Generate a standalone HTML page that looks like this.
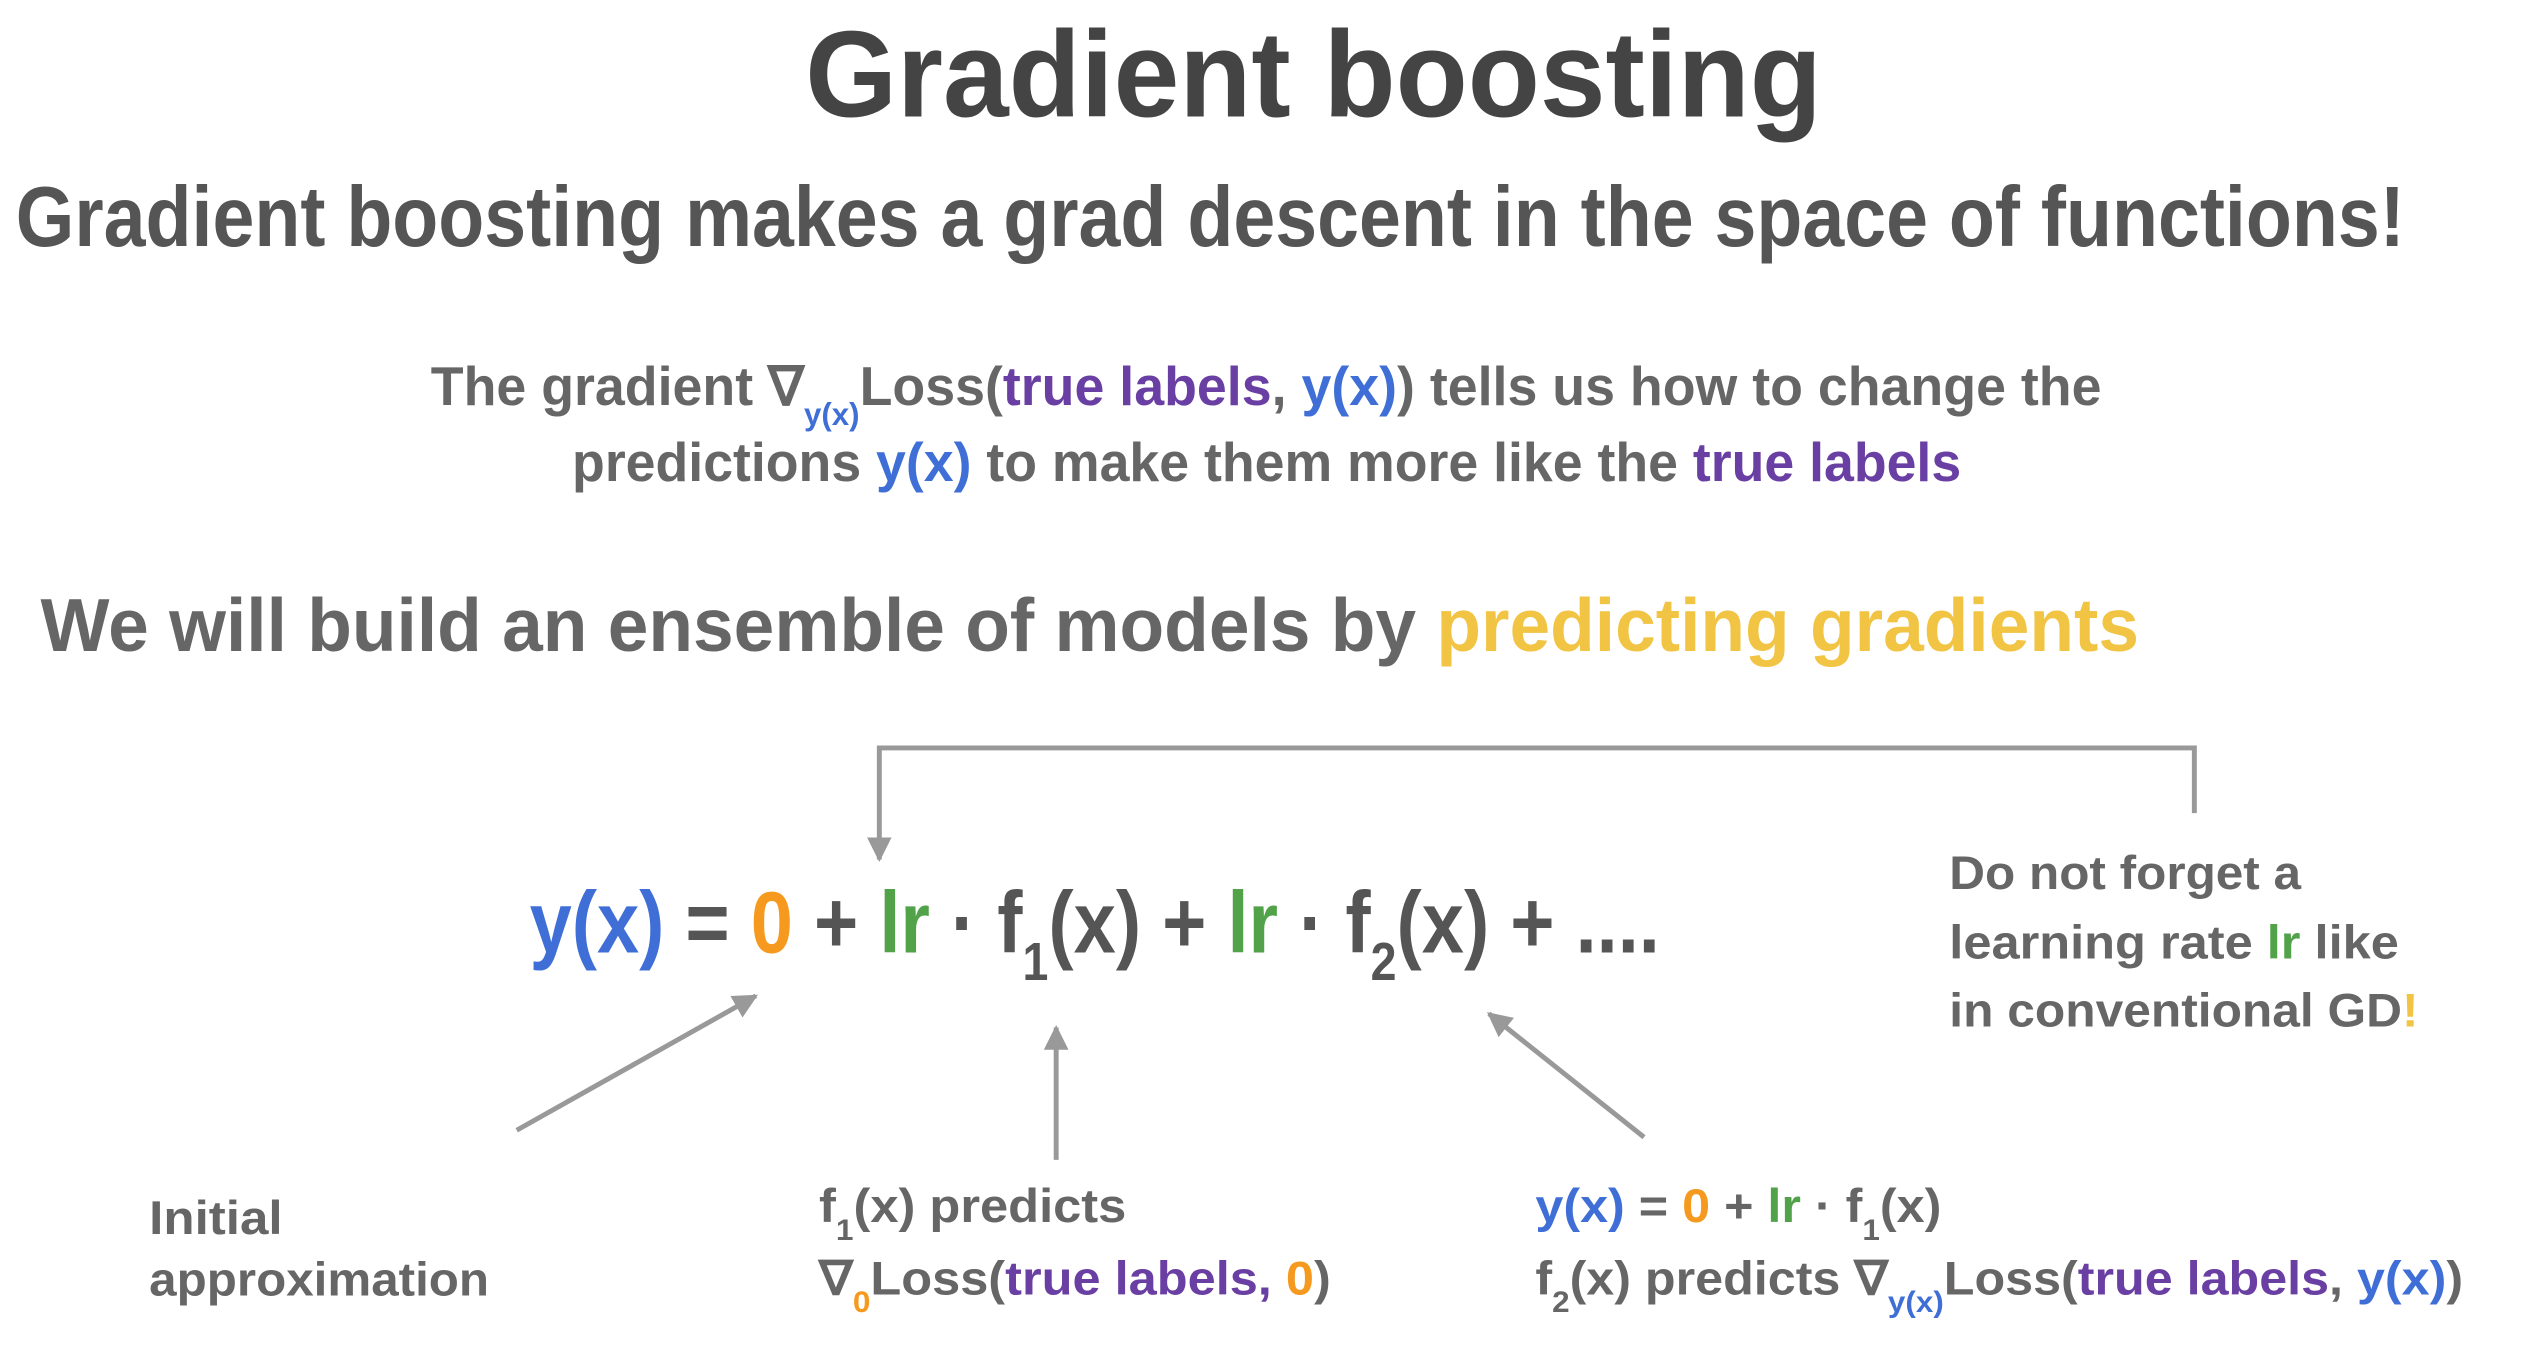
<!DOCTYPE html>
<html><head><meta charset="utf-8"><title>Gradient boosting</title>
<style>
html,body{margin:0;padding:0;background:#fff;}
svg{display:block;}
text{font-family:"Liberation Sans",Arial,sans-serif;font-weight:bold;}
.b{fill:#3f6fd6}.p{fill:#6a3fa3}.g{fill:#52a24a}.o{fill:#f5991f}.y{fill:#f1c443}
</style></head>
<body>
<svg width="2540" height="1370" viewBox="0 0 2540 1370">
<defs>
<marker id="ah" viewBox="0 0 10 10" refX="9" refY="5" markerWidth="5" markerHeight="5" orient="auto-start-reverse">
<path d="M0,0 L10,5 L0,10 z" fill="#999"/>
</marker>
</defs>
<rect width="2540" height="1370" fill="#fff"/>
<g transform="scale(0.988)">
<text x="815" y="118" font-size="124" fill="#444" textLength="1029" lengthAdjust="spacingAndGlyphs">Gradient boosting</text>

<text x="16" y="249" font-size="86" fill="#555" textLength="2418" lengthAdjust="spacingAndGlyphs">Gradient boosting makes a grad descent in the space of functions!</text>

<text x="436" y="410" font-size="55" fill="#666" textLength="1691" lengthAdjust="spacingAndGlyphs">The gradient ∇<tspan class="b" font-size="32" dy="20">y(x)</tspan><tspan dy="-20">Loss(</tspan><tspan class="p">true labels</tspan>, <tspan class="b">y(x)</tspan>) tells us how to change the</text>

<text x="579" y="487" font-size="55" fill="#666" textLength="1406" lengthAdjust="spacingAndGlyphs">predictions <tspan class="b">y(x)</tspan> to make them more like the <tspan class="p">true labels</tspan></text>

<text x="41" y="659" font-size="76" fill="#666" textLength="2124" lengthAdjust="spacingAndGlyphs">We will build an ensemble of models by <tspan class="y">predicting gradients</tspan></text>

<polyline points="2221,823 2221,757 890,757 890,870" fill="none" stroke="#999" stroke-width="5" marker-end="url(#ah)"/>

<text x="536" y="964" font-size="88" fill="#555" textLength="1144" lengthAdjust="spacingAndGlyphs"><tspan class="b">y(x)</tspan> = <tspan class="o">0</tspan> + <tspan class="g">lr</tspan> · f<tspan font-size="54" dy="28">1</tspan><tspan dy="-28">(x) + </tspan><tspan class="g">lr</tspan> · f<tspan font-size="54" dy="28">2</tspan><tspan dy="-28">(x) + ....</tspan></text>

<text x="1973" y="900" font-size="48" fill="#666" textLength="356" lengthAdjust="spacingAndGlyphs">Do not forget a</text>
<text x="1973" y="970" font-size="48" fill="#666" textLength="455" lengthAdjust="spacingAndGlyphs">learning rate <tspan class="g">lr</tspan> like</text>
<text x="1973" y="1039" font-size="48" fill="#666" textLength="475" lengthAdjust="spacingAndGlyphs">in conventional GD<tspan class="y">!</tspan></text>

<line x1="523" y1="1144" x2="765" y2="1008" stroke="#999" stroke-width="5" marker-end="url(#ah)"/>
<line x1="1069" y1="1174" x2="1069" y2="1040" stroke="#999" stroke-width="5" marker-end="url(#ah)"/>
<line x1="1664" y1="1151" x2="1507" y2="1026" stroke="#999" stroke-width="5" marker-end="url(#ah)"/>

<text x="151" y="1249" font-size="48" fill="#666" textLength="135" lengthAdjust="spacingAndGlyphs">Initial</text>
<text x="151" y="1311" font-size="48" fill="#666" textLength="344" lengthAdjust="spacingAndGlyphs">approximation</text>

<text x="829" y="1237" font-size="48" fill="#666" textLength="311" lengthAdjust="spacingAndGlyphs">f<tspan font-size="30" dy="18">1</tspan><tspan dy="-18">(x) predicts</tspan></text>
<text x="829" y="1310" font-size="48" fill="#666" textLength="518" lengthAdjust="spacingAndGlyphs">∇<tspan class="o" font-size="30" dy="18">0</tspan><tspan dy="-18">Loss(</tspan><tspan class="p">true labels</tspan><tspan class="p">, </tspan><tspan class="o">0</tspan>)</text>

<text x="1554" y="1237" font-size="48" fill="#666" textLength="411" lengthAdjust="spacingAndGlyphs"><tspan class="b">y(x)</tspan> = <tspan class="o">0</tspan> + <tspan class="g">lr</tspan> · f<tspan font-size="30" dy="18">1</tspan><tspan dy="-18">(x)</tspan></text>
<text x="1554" y="1310" font-size="48" fill="#666" textLength="939" lengthAdjust="spacingAndGlyphs">f<tspan font-size="30" dy="18">2</tspan><tspan dy="-18">(x) predicts ∇</tspan><tspan class="b" font-size="30" dy="18">y(x)</tspan><tspan dy="-18">Loss(</tspan><tspan class="p">true labels</tspan>, <tspan class="b">y(x)</tspan>)</text>
</g>
</svg>
</body></html>
